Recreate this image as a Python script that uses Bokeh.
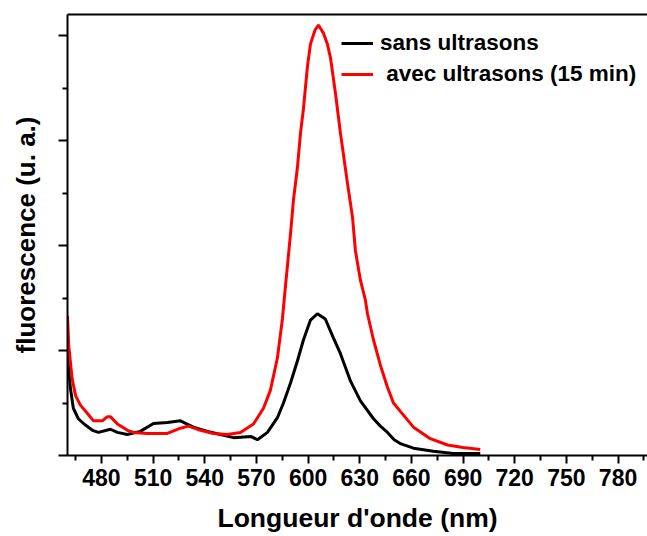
from bokeh.plotting import figure
from bokeh.models import (Range1d, FixedTicker, LinearAxis, Legend, LegendItem)
from bokeh.embed import file_html
from bokeh.resources import INLINE

# ---- data ----
wl_sans = [460.3, 462.0, 463.7, 466.6, 470.7, 474.8, 478.3, 485.2, 489.3, 495.0,
           502.6, 510.2, 518.3, 525.9, 533.4, 541.6, 549.1, 556.7, 567.0, 570.6,
           576.4, 582.2, 585.7, 589.8, 593.8, 597.3, 601.4, 605.4, 610.0, 614.7,
           618.8, 624.6, 630.4, 638.0, 642.0, 646.1, 650.0, 654.0, 661.2, 672.8,
           684.4, 700.0]
fl_sans = [0.95, 0.64, 0.45, 0.35, 0.29, 0.24, 0.22, 0.25, 0.22, 0.20,
           0.23, 0.305, 0.315, 0.33, 0.27, 0.23, 0.20, 0.17, 0.18, 0.15,
           0.22, 0.36, 0.50, 0.69, 0.90, 1.10, 1.29, 1.35, 1.30, 1.12,
           0.97, 0.71, 0.52, 0.35, 0.28, 0.22, 0.15, 0.11, 0.07, 0.04,
           0.02, 0.02]

wl_avec = [460.3, 461.0, 462.0, 463.0, 465.0, 467.8, 471.9, 475.4, 480.5, 483.5,
           485.2, 489.3, 495.1, 498.6, 506.7, 518.3, 525.9, 530.5, 537.5, 545.0,
           553.2, 560.7, 568.3, 574.1, 578.1, 582.2, 585.1, 586.8, 589.8, 591.5,
           593.8, 595.6, 597.3, 599.6, 601.4, 604.0, 606.0, 609.0, 611.2, 613.0,
           615.9, 618.8, 622.9, 625.8, 627.5, 630.4, 633.3, 634.5, 638.0, 642.0,
           646.1, 649.6, 653.6, 661.2, 671.0, 681.0, 690.0, 700.0]
fl_avec = [1.33, 1.05, 0.89, 0.73, 0.57, 0.48, 0.40, 0.33, 0.33, 0.37,
           0.37, 0.30, 0.24, 0.22, 0.21, 0.21, 0.26, 0.28, 0.24, 0.21,
           0.20, 0.22, 0.30, 0.45, 0.62, 0.93, 1.30, 1.60, 2.11, 2.43,
           2.74, 3.07, 3.30, 3.70, 3.92, 4.05, 4.10, 4.02, 3.92, 3.79,
           3.45, 3.07, 2.59, 2.27, 1.95, 1.67, 1.48, 1.35, 1.10, 0.86,
           0.65, 0.50, 0.42, 0.27, 0.16, 0.10, 0.076, 0.057]

x_major = [480, 510, 540, 570, 600, 630, 660, 690, 720, 750, 780]
x_minor = [465, 495, 525, 555, 585, 615, 645, 675, 705, 735, 765, 795]
y_major = [0, 1, 2, 3, 4]
y_minor = [0.5, 1.5, 2.5, 3.5]

labels = ["sans ultrasons", " avec ultrasons (15 min)"]

FONT = "Liberation Sans"

p = figure(width=647, height=536, output_backend="svg", toolbar_location=None,
           x_range=Range1d(460.3, 797.1), y_range=Range1d(0, 4.2),
           min_border_left=67, min_border_right=0, min_border_top=14,
           min_border_bottom=81, x_axis_location=None, y_axis_location=None)
p.grid.visible = False
p.outline_line_color = None
p.background_fill_color = "white"
p.border_fill_color = "white"

r1 = p.line(wl_sans, fl_sans, line_color="black", line_width=3)
r2 = p.line(wl_avec, fl_avec, line_color="#ff0000", line_width=3)

xaxis = LinearAxis(ticker=FixedTicker(ticks=x_major, minor_ticks=x_minor))
xaxis.axis_label = "Longueur d'onde (nm)"
xaxis.axis_label_text_font = FONT
xaxis.axis_label_text_font_style = "bold"
xaxis.axis_label_text_font_size = "26.5px"
xaxis.axis_label_text_color = "black"
xaxis.axis_label_standoff = 14
xaxis.major_label_text_font = FONT
xaxis.major_label_text_font_style = "bold"
xaxis.major_label_text_font_size = "23px"
xaxis.major_label_text_color = "black"
xaxis.major_label_standoff = 5
xaxis.major_tick_in = 0
xaxis.major_tick_out = 8
xaxis.minor_tick_in = 0
xaxis.minor_tick_out = 5
xaxis.axis_line_width = 2
xaxis.major_tick_line_width = 2
xaxis.minor_tick_line_width = 2
p.add_layout(xaxis, "below")

yaxis = LinearAxis(ticker=FixedTicker(ticks=y_major, minor_ticks=y_minor))
yaxis.axis_label = "fluorescence (u. a.)"
yaxis.axis_label_text_font = FONT
yaxis.axis_label_text_font_style = "bold"
yaxis.axis_label_text_font_size = "26px"
yaxis.axis_label_text_color = "black"
yaxis.axis_label_standoff = 18
yaxis.major_label_overrides = {t: "" for t in y_major}
yaxis.major_label_standoff = 0
yaxis.major_tick_in = 0
yaxis.major_tick_out = 9
yaxis.minor_tick_in = 0
yaxis.minor_tick_out = 5
yaxis.axis_line_width = 2
yaxis.major_tick_line_width = 2
yaxis.minor_tick_line_width = 2
p.add_layout(yaxis, "left")

topaxis = LinearAxis(ticker=FixedTicker(ticks=[]))
topaxis.major_tick_out = 0
topaxis.minor_tick_out = 0
topaxis.major_label_standoff = 0
topaxis.axis_line_width = 2
p.add_layout(topaxis, "above")

legend = Legend(items=[LegendItem(label=labels[0], renderers=[r1]),
                       LegendItem(label=labels[1], renderers=[r2])],
                location=(274, 368), padding=0, margin=0, spacing=5,
                glyph_width=32, glyph_height=24, label_height=24,
                label_standoff=7,
                label_text_font=FONT, label_text_font_style="bold",
                label_text_font_size="22.5px", label_text_color="black",
                border_line_color=None, background_fill_alpha=0)
p.add_layout(legend)

open("out.html", "w").write(file_html(p, INLINE))
